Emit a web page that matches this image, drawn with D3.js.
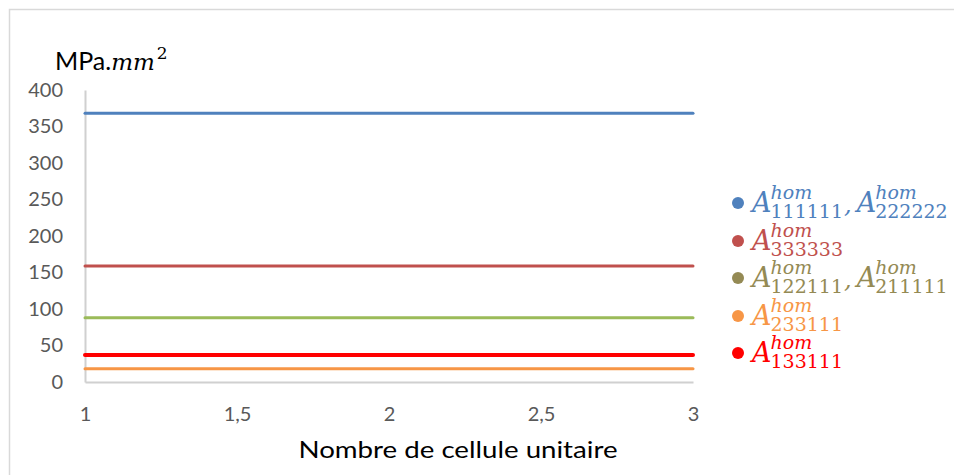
<!DOCTYPE html>
<html><head><meta charset="utf-8">
<script src="https://cdn.jsdelivr.net/npm/d3@7/dist/d3.min.js"></script>
<style>body{margin:0;background:#fff;} svg{display:block;}</style>
</head><body>
<svg id="chart" width="954" height="475"></svg>
<script>
const xValues = [1, 2, 3];
const xTicks = [1, 1.5, 2, 2.5, 3];
const yTicks = [0, 50, 100, 150, 200, 250, 300, 350, 400];
const seriesNames = ["A111111_222222", "A333333", "A122111_211111", "A233111", "A133111"];
const seriesValues = [
  [368, 368, 368],
  [159, 159, 159],
  [88, 88, 88],
  [18, 18, 18],
  [37, 37, 37]
];
const lineColors = ["#4F81BD", "#C0504D", "#9BBB59", "#F79646", "#FF0000"];
const legendColors = ["#4F81BD", "#C0504D", "#948A54", "#F79646", "#FF0000"];
const legendSubs = [["111111", "222222"], ["333333"], ["122111", "211111"], ["233111"], ["133111"]];
const drawOrder = [0, 1, 2, 4, 3];

const svg = d3.select("#chart");
// frame
svg.append("path").attr("d", "M9.5,475 V9.5 H954").attr("fill", "none").attr("stroke", "#D9D9D9").attr("stroke-width", 1.5);

const x = d3.scaleLinear().domain([1, 3]).range([85, 693]);
const y = d3.scaleLinear().domain([0, 400]).range([382, 90]);

const sans = "Lato, 'Open Sans', sans-serif";
// y axis
const yAxis = svg.append("g").attr("transform", "translate(85,0)")
  .call(d3.axisLeft(y).tickValues(yTicks).tickSize(0).tickPadding(22).tickFormat(d3.format("d")));
yAxis.select(".domain").attr("stroke", "#D0D0D0").attr("stroke-width", 2);
yAxis.selectAll("text").attr("font-family", sans).attr("font-size", 20).attr("fill", "#595959");

// x axis
const xAxis = svg.append("g").attr("transform", "translate(0,382)")
  .call(d3.axisBottom(x).tickValues(xTicks).tickSize(0).tickPadding(25)
    .tickFormat(d => String(d).replace(".", ",")));
xAxis.select(".domain").attr("stroke", "#D0D0D0").attr("stroke-width", 2);
xAxis.selectAll("text").attr("font-family", sans).attr("font-size", 20).attr("fill", "#595959");

// lines
const line = d3.line().x((d, i) => x(xValues[i])).y(d => y(d));
drawOrder.forEach(i => {
  svg.append("path").datum(seriesValues[i]).attr("d", line)
    .attr("fill", "none").attr("stroke", lineColors[i])
    .attr("stroke-width", i === 4 ? 4 : 3).attr("stroke-linecap", "round");
});

const serif = "'DejaVu Serif', serif";
// y axis title
const yt = svg.append("text").attr("x", 55).attr("y", 70).attr("fill", "#000");
yt.append("tspan").attr("font-family", sans).attr("font-size", 25).text("MPa.");
yt.append("tspan").attr("font-family", serif).attr("font-style", "italic").attr("font-size", 23).text("mm");
yt.append("tspan").attr("font-family", serif).attr("font-size", 17).attr("dy", -11).attr("dx", 2).text("2");

// x axis title
svg.append("text").attr("x", 458).attr("y", 458).attr("text-anchor", "middle")
  .attr("font-family", sans).attr("font-size", 24).attr("fill", "#000")
  .attr("textLength", 319).attr("lengthAdjust", "spacingAndGlyphs")
  .text("Nombre de cellule unitaire");

// legend
const legendY = [203, 241, 278, 316, 353];
function measure(txt, size, italic) {
  const t = svg.append("text").attr("font-family", serif).attr("font-size", size)
    .attr("font-style", italic ? "italic" : "normal").text(txt);
  const w = t.node().getComputedTextLength();
  t.remove();
  return w;
}
legendSubs.forEach((subs, i) => {
  const g = svg.append("g");
  const cy = legendY[i];
  const col = legendColors[i];
  g.append("circle").attr("cx", 738).attr("cy", cy).attr("r", 6).attr("fill", col);
  const t = g.append("text").attr("font-family", serif).attr("fill", col);
  let cx = 752;
  subs.forEach((s, k) => {
    if (k > 0) {
      t.append("tspan").attr("x", cx).attr("y", cy + 10).attr("font-style", "italic")
        .attr("font-size", 24).text(",");
      cx += measure(",", 24, true) + 5;
    }
    t.append("tspan").attr("x", cx).attr("y", cy + 9).attr("font-style", "italic")
      .attr("font-size", 27).text("A");
    const sx = cx + measure("A", 27, true) - 1;
    t.append("tspan").attr("x", sx).attr("y", cy - 4).attr("font-style", "italic")
      .attr("font-size", 19).text("hom");
    t.append("tspan").attr("x", sx).attr("y", cy + 15).attr("font-style", "normal")
      .attr("font-size", 19).text(s);
    cx = sx + Math.max(measure("hom", 19, true), measure(s, 19, false)) + 1;
  });
});
</script>
</body></html>
